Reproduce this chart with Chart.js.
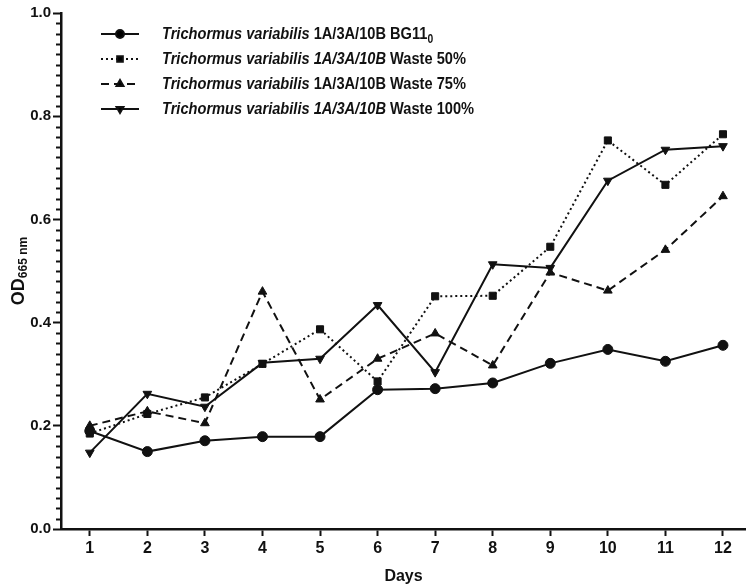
<!DOCTYPE html>
<html>
<head>
<meta charset="utf-8">
<script src="https://cdn.jsdelivr.net/npm/chart.js@4.4.1/dist/chart.umd.min.js"></script>
<style>
  html, body { margin: 0; padding: 0; background: #fff; }
  #wrap { width: 746px; height: 586px; }
</style>
</head>
<body>
<div id="wrap"><canvas id="od-chart" width="746" height="586"></canvas></div>
<script>
// values (OD 665 nm per day)
const days = [1, 2, 3, 4, 5, 6, 7, 8, 9, 10, 11, 12];
const bg11 = [0.19, 0.15, 0.171, 0.179, 0.179, 0.27, 0.272, 0.283, 0.321, 0.348, 0.325, 0.356];
const waste50 = [0.185, 0.223, 0.255, 0.32, 0.387, 0.286, 0.451, 0.452, 0.547, 0.753, 0.667, 0.765];
const waste75 = [0.2, 0.228, 0.205, 0.46, 0.251, 0.33, 0.379, 0.317, 0.497, 0.462, 0.541, 0.645];
const waste100 = [0.148, 0.262, 0.237, 0.322, 0.33, 0.434, 0.304, 0.513, 0.506, 0.675, 0.735, 0.742];
const yMajorTicks = [0, 0.2, 0.4, 0.6, 0.8, 1.0];

// legend text pieces: [text, italic, subscript]
const legendLabels = [
  [['Trichormus variabilis', true], [' 1A/3A/10B BG11', false], ['0', false, true]],
  [['Trichormus variabilis 1A/3A/10B', true], [' Waste 50%', false]],
  [['Trichormus variabilis', true], [' 1A/3A/10B Waste 75%', false]],
  [['Trichormus variabilis 1A/3A/10B', true], [' Waste 100%', false]],
];

const INK = '#111';
const FONT = "'Liberation Sans', Arial, sans-serif";

function toPoints(arr) {
  return arr.map((v, i) => ({ x: days[i], y: v }));
}

const minorTicks = {
  id: 'minorTicks',
  afterDraw(chart) {
    const y = chart.scales.y;
    const ctx = chart.ctx;
    ctx.save();
    ctx.strokeStyle = INK;
    ctx.lineWidth = 2;
    for (let i = 1; i < 50; i++) {
      if (i % 10 === 0) continue;
      const py = Math.round(y.getPixelForValue(i / 50)) + 0.5;
      ctx.beginPath();
      ctx.moveTo(y.right - 5, py);
      ctx.lineTo(y.right, py);
      ctx.stroke();
    }
    ctx.restore();
  },
};

const yTitle = {
  id: 'yTitle',
  afterDraw(chart) {
    const ctx = chart.ctx;
    const area = chart.chartArea;
    ctx.save();
    ctx.translate(19, (area.top + area.bottom) / 2);
    ctx.rotate(-Math.PI / 2);
    ctx.fillStyle = INK;
    ctx.textBaseline = 'middle';
    const main = 'OD';
    const sub = '665 nm';
    ctx.font = 'bold 18px ' + FONT;
    const w1 = ctx.measureText(main).width;
    ctx.font = 'bold 12px ' + FONT;
    const w2 = ctx.measureText(sub).width;
    const x0 = -(w1 + w2) / 2;
    ctx.font = 'bold 18px ' + FONT;
    ctx.fillText(main, x0, 0);
    ctx.font = 'bold 12px ' + FONT;
    ctx.fillText(sub, x0 + w1, 5);
    ctx.restore();
  },
};

const customLegend = {
  id: 'customLegend',
  afterDraw(chart) {
    const ctx = chart.ctx;
    const rowY = [34, 59, 84, 109];
    chart.data.datasets.forEach((ds, i) => {
      const y = rowY[i];
      ctx.save();
      ctx.strokeStyle = INK;
      ctx.lineWidth = ds.borderWidth;
      ctx.setLineDash(ds.borderDash || []);
      ctx.beginPath();
      ctx.moveTo(101, y);
      ctx.lineTo(139, y);
      ctx.stroke();
      ctx.setLineDash([]);
      Chart.helpers.drawPoint(ctx, {
        pointStyle: ds.pointStyle,
        radius: 4,
        rotation: ds.pointRotation || 0,
        borderWidth: 1,
      }, 120, y);
      ctx.fillStyle = INK;
      ctx.textBaseline = 'middle';
      // the figure's lettering is horizontally condensed
      ctx.translate(162, y);
      ctx.scale(0.86, 1);
      let x = 0;
      legendLabels[i].forEach(([text, italic, sub]) => {
        ctx.font = (italic ? 'italic ' : '') + 'bold ' + (sub ? '12px ' : '17px ') + FONT;
        ctx.fillText(text, x, sub ? 6 : 0);
        x += ctx.measureText(text).width;
      });
      ctx.restore();
    });
  },
};

function series(data, style, radius, dash, rotation) {
  return {
    data: toPoints(data),
    borderColor: INK,
    backgroundColor: INK,
    pointBackgroundColor: INK,
    pointBorderColor: INK,
    borderWidth: 2,
    borderDash: dash,
    pointStyle: style,
    pointRadius: radius,
    pointRotation: rotation,
    pointBorderWidth: 1,
    tension: 0,
    fill: false,
  };
}

const ctx = document.getElementById('od-chart').getContext('2d');
window.odChart = new Chart(ctx, {
  type: 'line',
  data: {
    datasets: [
      series(bg11, 'circle', 5, [], 0),
      series(waste50, 'rect', 5, [2, 3], 0),
      series(waste75, 'triangle', 5, [8, 5], 0),
      series(waste100, 'triangle', 5, [], 180),
    ],
  },
  options: {
    responsive: false,
    animation: false,
    devicePixelRatio: 1,
    layout: { autoPadding: false, padding: { top: 13, right: 0, left: 0, bottom: 0 } },
    plugins: {
      legend: { display: false },
      tooltip: { enabled: false },
    },
    scales: {
      x: {
        type: 'linear',
        min: 0.5,
        max: 12.4,
        afterBuildTicks: (scale) => { scale.ticks = days.map((d) => ({ value: d })); },
        afterFit: (scale) => {
          scale.height = 57;
          scale.paddingLeft = 0;
          scale.paddingRight = 0;
        },
        border: { display: true, width: 2.5, color: INK },
        grid: { drawOnChartArea: false, tickLength: 7, tickWidth: 2, tickColor: INK },
        ticks: {
          color: INK,
          padding: 3,
          font: { family: FONT, size: 16, weight: 'bold' },
        },
        title: {
          display: true,
          text: 'Days',
          color: INK,
          padding: { top: 0, bottom: 0 },
          font: { family: FONT, size: 16, weight: 'bold' },
        },
      },
      y: {
        min: 0,
        max: 1,
        afterBuildTicks: (scale) => { scale.ticks = yMajorTicks.map((v) => ({ value: v })); },
        afterFit: (scale) => { scale.width = 61; },
        border: { display: true, width: 2.5, color: INK },
        grid: { drawOnChartArea: false, tickLength: 8, tickWidth: 2, tickColor: INK },
        ticks: {
          color: INK,
          padding: 2,
          font: { family: FONT, size: 15, weight: 'bold' },
          callback: (v) => Number(v).toFixed(1),
        },
      },
    },
  },
  plugins: [minorTicks, yTitle, customLegend],
});
</script>
</body>
</html>
